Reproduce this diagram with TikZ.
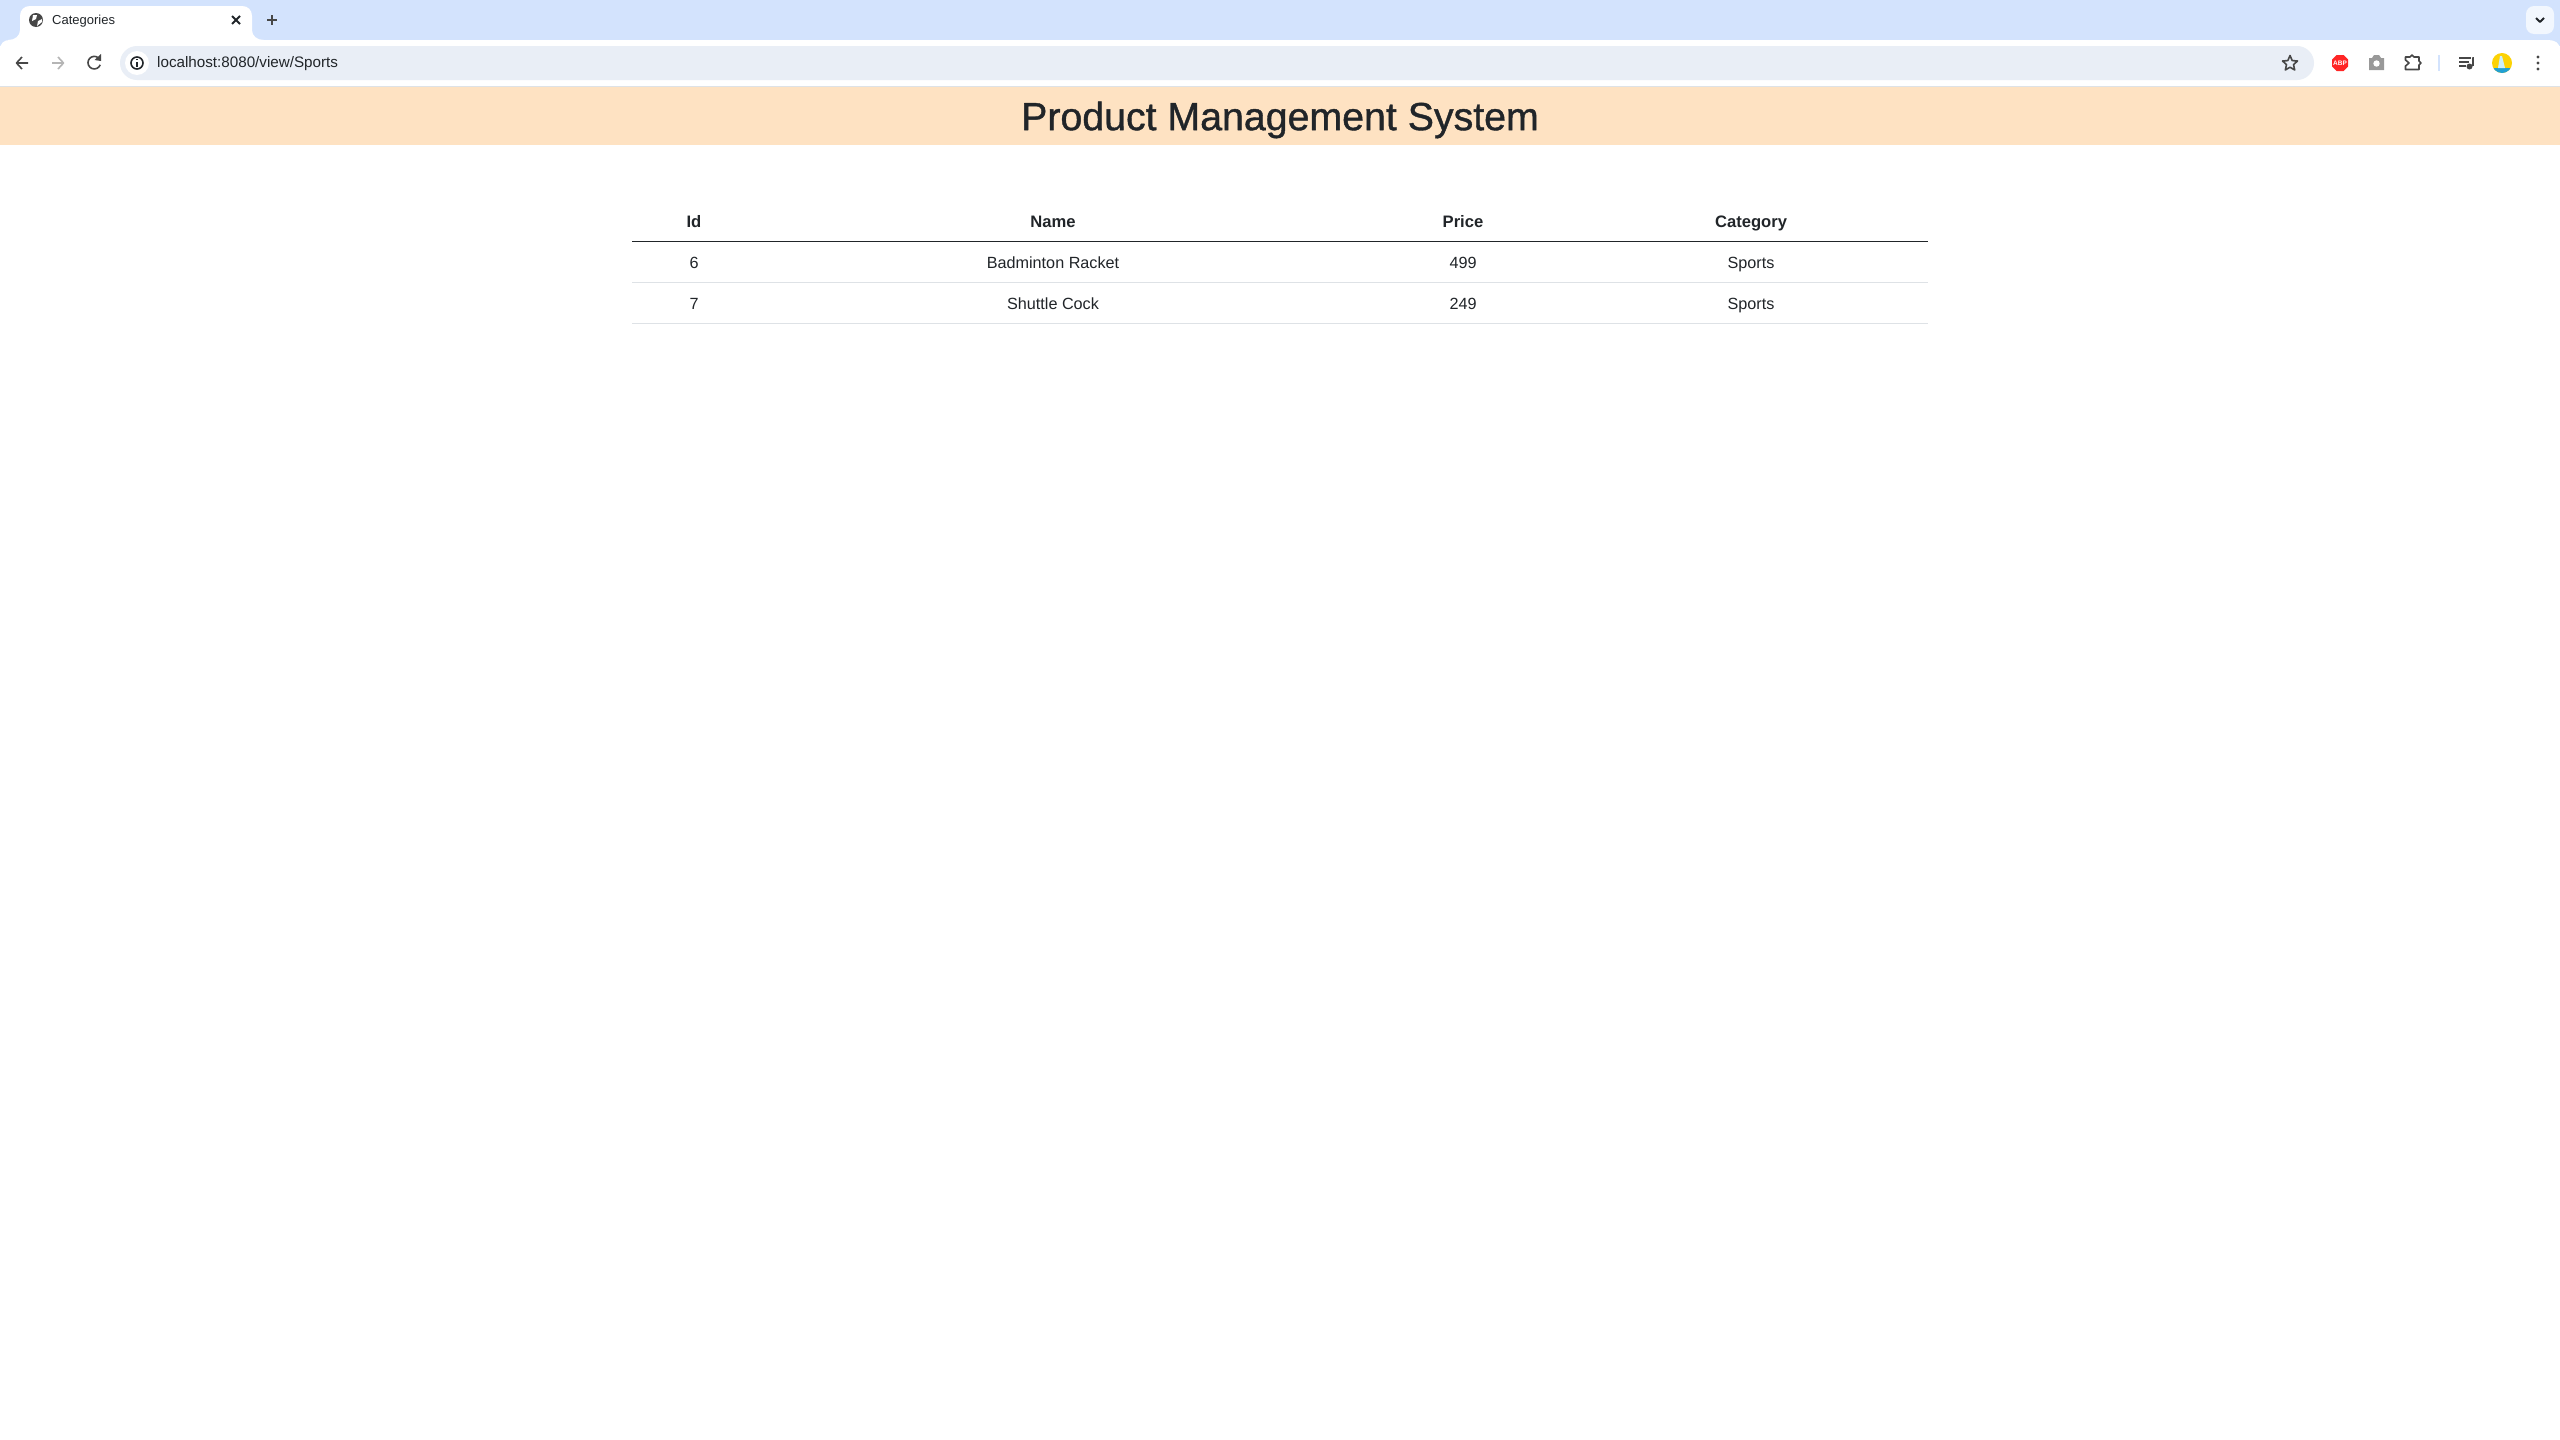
\documentclass[tikz,border=0pt]{standalone}
\usepackage{fontspec}
\setmainfont{Liberation Sans}
\newfontfamily\titlefont[FakeBold=1]{Liberation Sans}
\definecolor{tabbar}{HTML}{D3E3FD}
\definecolor{omnibox}{HTML}{E9EEF6}
\definecolor{banner}{HTML}{FEE2C2}
\definecolor{inkdark}{HTML}{212529}
\definecolor{iconink}{HTML}{474747}
\definecolor{rowrule}{HTML}{DEE2E6}
\begin{document}
\begin{tikzpicture}[
				x = 1pt,
				y = -1pt,
				node distance = 41pt,
				line join = round
				]

				\tikzstyle{cell}=[
					inner sep = 0pt,
					text = inkdark,
					font = \fontsize{16.2}{19}\selectfont,
					text height = 11pt,
					text depth = 3pt
				]
				\tikzstyle{headcell}=[
					cell,
					font = \fontsize{16.6}{19}\selectfont\bfseries
				]
				\tikzstyle{icon}=[
					draw = iconink,
					line width = 1.6pt
				]

				\useasboundingbox (0,0) rectangle (2560,1440);
				\fill[white] (0,0) rectangle (2560,1440);

				% browser bars
				\fill[tabbar] (0,0) rectangle (2560,46);
				\fill[white] (0,50) .. controls (0,43) and (4,40) .. (10,40) -- (2548,40) .. controls (2555,40) and (2560,43) .. (2560,50) -- (2560,87) -- (0,87) -- cycle;
				\fill[white] (8,40) .. controls (15,40) and (20,36) .. (20,30) -- (20,16) .. controls (20,10) and (24,6) .. (30,6) -- (242,6) .. controls (248,6) and (252,10) .. (252,16) -- (252,30) .. controls (252,36) and (257,40) .. (264,40) -- cycle;
				\fill[omnibox, rounded corners = 17pt] (120,46) rectangle (2314,80);
				\fill[white] (137,63) circle (12);
				\fill[banner] (0,87) rectangle (2560,145);
				\draw[rowrule, line width = 1pt] (0,86.5) -- (2560,86.5);

				% tab
				\fill[iconink] (36,20) circle (7);
				\fill[white] (33,15) -- (37,15) -- (36,19) -- (32,21) -- cycle;
				\fill[white] (38,21) -- (42,19) -- (42,22) -- (37,26) -- cycle;
				\node[inner sep = 0pt, text = inkdark, font = \fontsize{13}{15}\selectfont, anchor = west] (tabtitle) at (52,21) {Categories};
				\draw[icon, draw = inkdark, line width = 2pt] (232,16) -- (240,24) (240,16) -- (232,24);
				\draw[icon] (267,20) -- (277,20) (272,15) -- (272,25);

				% navigation
				\draw[icon] (28,63) -- (17,63) (22,57) -- (16.5,63) -- (22,69);
				\draw[icon, draw = iconink!40] (52,63) -- (63,63) (58,57) -- (63.5,63) -- (58,69);
				\draw[icon] (100,60) arc (-25:-340:6.3);
				\fill[iconink] (101,54) -- (101,61) -- (94.5,60) -- cycle;
				\draw[icon, draw = inkdark] (137,63) circle (6);
				\draw[inkdark, line width = 1.5pt] (137,62) -- (137,66.5) (137,59) -- (137,60.2);
				\node[inner sep = 0pt, text = inkdark, font = \fontsize{15.2}{18}\selectfont, anchor = west] (address) at (157,64) {localhost:8080/view/Sports};

				% toolbar icons
				\draw[icon] (2290,55.5) -- (2292.2,60.6) -- (2297.5,61) -- (2293.5,64.6) -- (2294.7,70) -- (2290,67.2) -- (2285.3,70) -- (2286.5,64.6) -- (2282.5,61) -- (2287.8,60.6) -- cycle;
				\fill[red!80!pink] (2336.5,55) -- (2343.5,55) -- (2348,59.5) -- (2348,66.5) -- (2343.5,71) -- (2336.5,71) -- (2332,66.5) -- (2332,59.5) -- cycle;
				\node[inner sep = 0pt, text = white, font = \fontsize{6.5}{7}\selectfont\bfseries] (abp) at (2340,63) {ABP};
				\fill[gray!80] (2369,58) -- (2372,58) -- (2374,55) -- (2379,55) -- (2381,58) -- (2384,58) -- (2384,70) -- (2369,70) -- cycle;
				\fill[white] (2376.5,63.5) circle (3.2);
				\draw[icon] (2405.5,57) -- (2410,57) -- (2412,55) -- (2414,57) -- (2419,57) -- (2419,61) -- (2421,63) -- (2419,65) -- (2419,69.5) -- (2405.5,69.5) -- (2405.5,66) -- (2409,63) -- (2405.5,60) -- cycle;
				\draw[tabbar, line width = 1.6pt] (2439,55) -- (2439,71);
				\draw[icon] (2459,58) -- (2471,58) (2459,62) -- (2469,62) (2459,66) -- (2466,66) (2473,66) -- (2473,58) -- (2474,58);
				\fill[iconink] (2469.5,66.5) circle (3);
				\fill[yellow!70!orange] (2502,63) circle (10);
				\begin{scope}
					\clip (2502,63) circle (10);
					\fill[cyan!70!teal] (2492,68) rectangle (2512,73);
					\fill[white!80!cyan] (2498,68) -- (2500,56) -- (2502,56) -- (2505,68) -- cycle;
				\end{scope}
				\foreach \doty in {57,63,69}
					\fill[iconink] (2538,\doty) circle (1.6);
				\fill[white!70!tabbar, rounded corners = 8pt] (2526,6) rectangle (2554,34);
				\draw[inkdark, line width = 2pt] (2536,18) -- (2540,22) -- (2544,18);

				% heading
				\node[inner sep = 0pt, text = inkdark, font = \titlefont\fontsize{39.3}{46}\selectfont] (pagetitle) at (1280,120) {Product Management System};

				% table
				\node[headcell] (idhead) at (694,223) {Id};
				\node[headcell] (namehead) at (1053,223) {Name};
				\node[headcell] (pricehead) at (1463,223) {Price};
				\node[headcell] (cathead) at (1751,223) {Category};

				\node[cell] (id1) [below of=idhead] {6};
				\node[cell] (name1) [below of=namehead] {Badminton Racket};
				\node[cell] (price1) [below of=pricehead] {499};
				\node[cell] (cat1) [below of=cathead] {Sports};
				\node[cell] (id2) [below of=id1] {7};
				\node[cell] (name2) [below of=name1] {Shuttle Cock};
				\node[cell] (price2) [below of=price1] {249};
				\node[cell] (cat2) [below of=cat1] {Sports};

				\draw[inkdark, line width = 1.4pt] (632,241.5) -- (1928,241.5);
				\draw[rowrule, line width = 1.2pt] (632,282.5) -- (1928,282.5);
				\draw[rowrule, line width = 1.2pt] (632,323.5) -- (1928,323.5);
\end{tikzpicture}
\end{document}
